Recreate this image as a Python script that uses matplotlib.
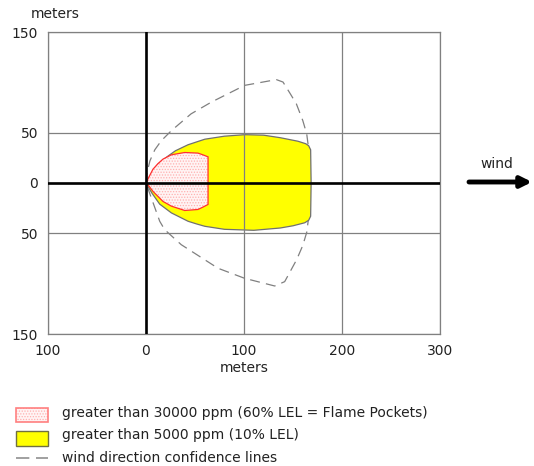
import matplotlib
matplotlib.use("Agg")
import matplotlib.pyplot as plt
from matplotlib.patches import Polygon, Rectangle
from matplotlib.lines import Line2D

# outline of the >5000 ppm zone (x, y in meters)
yellow_x = [0, 6, 12.2, 22.4, 30, 42.9, 60, 80, 101, 120, 137, 155, 163, 166, 168, 168.5,
            168, 166, 162, 150, 137, 110, 80, 60, 51.7, 42.9, 25.9, 14, 6, 0]
yellow_y = [0, 10, 18.7, 26.7, 32, 38, 43.5, 46.5, 48, 47.5, 45, 41.5, 39, 37, 33, 0,
            -33, -37, -39.5, -42.5, -44.7, -47, -46, -43, -40.7, -38, -29.7, -21, -10, 0]

# outline of the >30000 ppm flame pocket zone
pink_x = [0, 3, 7.1, 12, 17.3, 25.9, 39.5, 53, 58, 63.3,
          63.3, 58, 53, 39.5, 25.9, 17.3, 7.1, 3, 0]
pink_y = [0, 6, 13.7, 19, 23.7, 28, 30.3, 29.7, 28, 26,
          -21.3, -24, -26.3, -27.3, -23, -18.3, -8.3, -3, 0]

# wind direction confidence envelope
conf_x = [0, 1, 4, 9, 15.6, 25.9, 46, 66.6, 100.7, 133, 139.8, 147, 153.4, 160, 164, 166.5, 167,
          167, 166.5, 164, 160, 153.8, 146, 141.5, 131.3, 100.7, 73.5, 36, 19, 14, 5.4, 0]
conf_y = [0, 10, 22, 33, 42, 52, 68.7, 80.3, 97, 102.7, 100.3, 89, 78.7, 62, 48.7, 30, 10,
          -10, -30, -49, -62, -76, -90, -98, -102.3, -94.7, -84.7, -61.3, -46.3, -38, -14.7, 0]

xticks = [-100, 0, 100, 200, 300]
xlabels = ['100', '0', '100', '200', '300']
yticks = [-150, -50, 0, 50, 150]
ylabels = ['150', '50', '0', '50', '150']

legend_texts = ['greater than 30000 ppm (60% LEL = Flame Pockets)',
                'greater than 5000 ppm (10% LEL)',
                'wind direction confidence lines']

plt.rcParams['hatch.linewidth'] = 0.6

W, H = 534, 466
fig = plt.figure(figsize=(W / 100, H / 100), dpi=100)
ax = fig.add_axes([48 / W, 1 - 334 / H, 392 / W, 302 / H])
ax.set_xlim(-100, 300)
ax.set_ylim(-150, 150)

for v in xticks:
    ax.axvline(v, color='#808080', lw=0.9, zorder=3)
for v in yticks:
    ax.axhline(v, color='#808080', lw=0.9, zorder=3)
ax.axvline(0, color='black', lw=1.9, zorder=4)
ax.axhline(0, color='black', lw=1.9, zorder=4)

ax.plot(conf_x, conf_y, color='#808080', lw=0.9, dashes=(8, 5), zorder=1)

ax.add_patch(Polygon(list(zip(yellow_x, yellow_y)), closed=True, facecolor='#ffff00',
                     edgecolor='#707070', lw=0.9, zorder=2))
ax.add_patch(Polygon(list(zip(pink_x, pink_y)), closed=True, facecolor='#fff4f4',
                     edgecolor='#ffb0b0', hatch='......', lw=0, zorder=2.1))
ax.add_patch(Polygon(list(zip(pink_x, pink_y)), closed=True, facecolor='none',
                     edgecolor='#ff3030', lw=0.9, zorder=2.2))

ax.set_xticks(xticks)
ax.set_xticklabels(xlabels)
ax.set_yticks(yticks)
ax.set_yticklabels(ylabels)
ax.tick_params(length=0, labelsize=10, colors='#222222', pad=7)
for s in ax.spines.values():
    s.set_color('#808080')
    s.set_linewidth(0.9)
ax.set_xlabel('meters', fontsize=10, color='#222222', labelpad=2)

fig.text(55 / W, 1 - 14 / H, 'meters', fontsize=10, color='#222222', ha='center', va='center')

# wind arrow
fig.text(497 / W, 1 - 164 / H, 'wind', fontsize=10, color='#222222', ha='center', va='center')
ax.annotate('', xy=(532, H - 182), xytext=(469, H - 182), xycoords='figure pixels',
            textcoords='figure pixels', annotation_clip=False,
            arrowprops=dict(arrowstyle='-|>', lw=3.5, color='black', mutation_scale=16,
                            shrinkA=0, shrinkB=0))

# legend
fig.patches.append(Rectangle((16 / W, 1 - 422 / H), 32 / W, 14 / H, transform=fig.transFigure,
                             facecolor='#fff4f4', edgecolor='#ffb0b0', hatch='......', lw=0))
fig.patches.append(Rectangle((16 / W, 1 - 422 / H), 32 / W, 14 / H, transform=fig.transFigure,
                             facecolor='none', edgecolor='#ff8080', lw=1.2))
fig.patches.append(Rectangle((16 / W, 1 - 446 / H), 32 / W, 15 / H, transform=fig.transFigure,
                             facecolor='#ffff00', edgecolor='#707040', lw=1.0))
fig.lines.append(Line2D([16 / W, 48 / W], [1 - 458 / H, 1 - 458 / H], transform=fig.transFigure,
                        color='#909090', lw=1.2, dashes=(8, 4)))
for i, t in enumerate(legend_texts):
    fig.text(62 / W, 1 - (413 + 22.5 * i) / H, t, fontsize=10, color='#222222', va='center')

fig.savefig('out.png', dpi=100)
